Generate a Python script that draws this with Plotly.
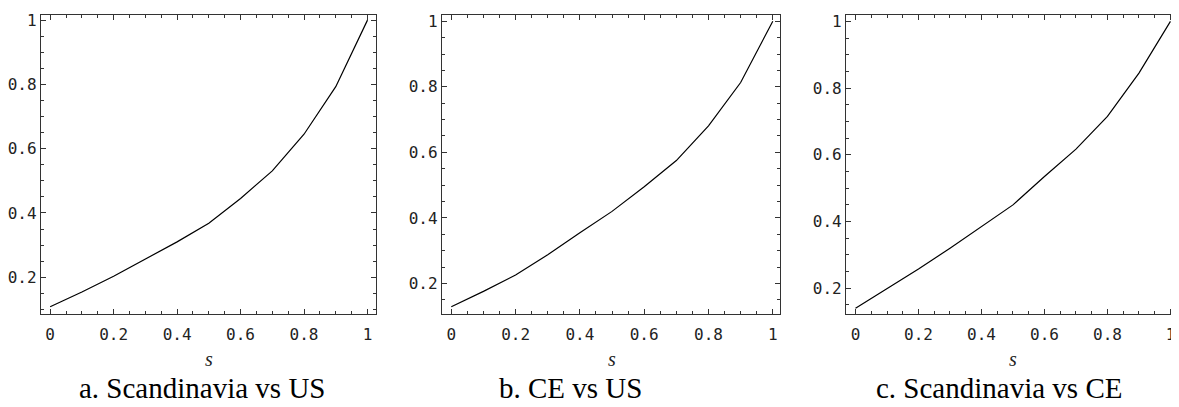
import plotly.graph_objects as go

# ---------------- data ----------------
s_values = [0.0, 0.1, 0.2, 0.3, 0.4, 0.5, 0.6, 0.7, 0.8, 0.9, 1.0]
scandinavia_vs_us = [0.108, 0.154, 0.203, 0.256, 0.310, 0.368, 0.445, 0.531, 0.645, 0.793, 1.0]
ce_vs_us = [0.129, 0.176, 0.226, 0.288, 0.355, 0.420, 0.495, 0.575, 0.681, 0.813, 1.0]
scandinavia_vs_ce = [0.140, 0.199, 0.258, 0.320, 0.385, 0.450, 0.535, 0.617, 0.715, 0.845, 1.0]

x_tick_vals = [0, 0.2, 0.4, 0.6, 0.8, 1]
x_tick_text = ["0", "0.2", "0.4", "0.6", "0.8", "1"]
y_tick_vals = [0.2, 0.4, 0.6, 0.8, 1]
y_tick_text = ["0.2", "0.4", "0.6", "0.8", "1"]
captions = ["a. Scandinavia vs US", "b. CE vs US", "c. Scandinavia vs CE"]
x_title = "s"

series = [scandinavia_vs_us, ce_vs_us, scandinavia_vs_ce]

# ---------------- layout geometry (window pixels) ----------------
OFF = 8                      # page body margin of the html page
W, H = 1179 - OFF, 407 - OFF  # figure size
# (left, right, top, bottom) of each plot frame in window pixels, x-range, y-range, caption centre x
panels = [
    dict(box=(39.0, 375.0, 11.7, 313.3), xr=(-0.029, 1.028), yr=(0.0855, 1.017), cap_x=200),
    dict(box=(440.7, 779.5, 11.7, 313.3), xr=(-0.029, 1.023), yr=(0.107, 1.020), cap_x=569),
    dict(box=(845.5, 1178.0, 11.7, 313.3), xr=(-0.030, 1.024), yr=(0.123, 1.020), cap_x=999),
]


def px(v):
    return (v - OFF) / W


def py(v):
    return 1 - (v - OFF) / H


tick_font = dict(family="DejaVu Sans Mono", size=16, color="#222222")
frame_color = "#333333"

fig = go.Figure()
annotations = []
for i, (p, ys) in enumerate(zip(panels, series)):
    n = "" if i == 0 else str(i + 1)
    l, r, t, b = p["box"]
    fig.add_trace(go.Scatter(
        x=s_values, y=ys, mode="lines",
        line=dict(color="black", width=1.2),
        xaxis="x" + n, yaxis="y" + n, showlegend=False, hoverinfo="skip",
    ))
    common = dict(
        showline=True, linecolor=frame_color, linewidth=1.4, mirror="allticks",
        ticks="inside", ticklen=5, tickwidth=1, tickcolor=frame_color,
        showgrid=False, zeroline=False, tickfont=tick_font,
        minor=dict(ticks="inside", ticklen=3, tickwidth=1, tickcolor=frame_color, dtick=0.05, showgrid=False),
    )
    fig.update_layout(**{
        "xaxis" + n: dict(
            domain=[px(l), px(r)], range=list(p["xr"]), anchor="y" + n,
            tickmode="array", tickvals=x_tick_vals, ticktext=x_tick_text,
            ticklabelstandoff=6, **common),
        "yaxis" + n: dict(
            domain=[py(b), py(t)], range=list(p["yr"]), anchor="x" + n,
            tickmode="array", tickvals=y_tick_vals, ticktext=y_tick_text,
            ticklabelstandoff=0, **common),
    })
    xc = l + (0.5 - p["xr"][0]) * (r - l) / (p["xr"][1] - p["xr"][0])
    annotations.append(dict(
        text=x_title, x=px(xc), y=py(359), xref="paper", yref="paper",
        xanchor="center", yanchor="middle", showarrow=False,
        font=dict(family="Liberation Serif", size=20, color="#222222", style="italic"),
    ))
    annotations.append(dict(
        text=captions[i], x=px(p["cap_x"]), y=py(388), xref="paper", yref="paper",
        xanchor="center", yanchor="middle", showarrow=False,
        font=dict(family="Liberation Serif", size=29, color="black"),
    ))

fig.update_layout(
    width=W, height=H, autosize=False,
    margin=dict(l=0, r=0, t=0, b=0, pad=0),
    paper_bgcolor="white", plot_bgcolor="white",
    annotations=annotations,
)

fig.write_html("out.html")
